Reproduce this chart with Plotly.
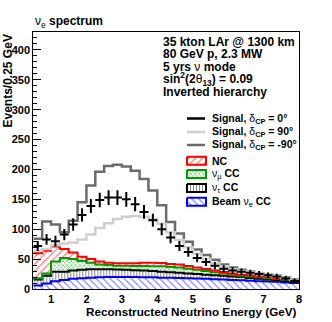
import numpy as np
import plotly.graph_objects as go

# 30 bins of 0.25 GeV between 0.5 and 8 GeV
energy_edges = np.arange(0.5, 8.0001, 0.25)

# background components (events per bin), stacked bottom -> top
beam_nue_cc = [6, 9, 13, 15, 17, 18, 19, 19.5, 20, 20, 20, 20, 19.5, 19.5, 19,
               19, 18.5, 18, 17.5, 17, 16.5, 16, 15, 14.5, 14, 13, 12.5, 12, 11, 10]
nutau_cc = [10, 13, 16, 14, 14, 14, 14, 13.5, 13, 12.5, 12, 11.5, 11.5, 10.5, 10,
            9, 8.5, 8, 7.5, 7, 6.5, 6, 6, 5.5, 4.5, 4, 3.5, 3, 2.5, 2]
numu_cc = [2, 4, 17, 23, 19, 15, 11, 8, 7, 6.5, 7, 7, 7.5, 8, 9,
           9, 9, 8, 7, 6, 5, 4, 3, 2, 2.5, 2.5, 2, 2, 2, 2]
nc = [42, 38, 25, 15, 11, 7, 6, 5, 4, 4, 4, 4.5, 5.5, 6, 5.5,
      5, 5, 4.5, 4, 3.5, 3, 2.5, 2, 2, 2, 1.5, 1.5, 1, 1, 1]

# signal + background for three values of delta_CP
signal_dcp0 = [72, 83, 80, 91, 108, 124, 139, 149, 153, 153, 150, 142, 129, 115, 100,
               86, 72, 62, 52, 45, 39, 34, 31, 29, 27, 25, 23, 21, 18, 14]
signal_dcp90 = [64, 67, 73, 76, 78, 83, 91, 102, 110, 117, 121, 122, 121, 117, 109,
                95, 82, 70, 59, 50, 43, 38, 33, 30, 28, 26, 23.5, 21.5, 19, 15.5]
signal_dcpm90 = [84, 113, 108, 95, 114, 145, 173, 196, 206, 208, 205, 198, 184, 165, 140,
                 112, 93, 79, 66, 57, 49, 41, 36, 32, 29, 26.5, 24, 22, 19.5, 16.5]

W, H = 332, 322
FONT = "Liberation Sans"
DGRAY = "#6b6b6b"
LGRAY = "#cfcfcf"
GREEN = "#009a00"


def step(v):
    return list(v) + [v[-1]]


fig = go.Figure()

# (values, colour, hatch, hatch size, hatch solidity)
stack = [
    (beam_nue_cc, "blue", "\\", 5, 0.22),
    (nutau_cc, "black", "|", 3, 0.3),
    (numu_cc, GREEN, "x", 3, 0.45),
    (nc, "red", "/", 5, 0.28),
]
top = np.zeros(len(beam_nue_cc))
for i, (vals, col, shp, sz, sol) in enumerate(stack):
    top = top + np.array(vals)
    fig.add_trace(go.Scatter(
        x=energy_edges, y=step(top), mode="lines",
        line=dict(shape="hv", color=col, width=2),
        fill="tozeroy" if i == 0 else "tonexty",
        fillpattern=dict(shape=shp, fgcolor=col, bgcolor="white", size=sz, solidity=sol),
    ))

fig.add_trace(go.Scatter(x=energy_edges, y=step(signal_dcpm90), mode="lines",
                         line=dict(shape="hv", color=DGRAY, width=2.5)))
fig.add_trace(go.Scatter(x=energy_edges, y=step(signal_dcp90), mode="lines",
                         line=dict(shape="hv", color=LGRAY, width=2.5)))

centers = (energy_edges[:-1] + energy_edges[1:]) / 2
fig.add_trace(go.Scatter(
    x=centers, y=signal_dcp0, mode="markers", marker=dict(size=1, color="black"),
    error_x=dict(type="constant", value=0.125, width=0, thickness=2, color="black"),
    error_y=dict(type="data", array=np.sqrt(signal_dcp0), width=0, thickness=2, color="black"),
))

# legend drawn by hand on a pixel overlay (x2/y2)
leg_lines = [("black", "<b>Signal, </b>δ<sub><b>CP</b></sub><b> = 0°</b>", 118.5),
             (LGRAY, "<b>Signal, </b>δ<sub><b>CP</b></sub><b> = 90°</b>", 132),
             (DGRAY, "<b>Signal, </b>δ<sub><b>CP</b></sub><b> = -90°</b>", 145)]
for col, txt, yy in leg_lines:
    fig.add_trace(go.Scatter(x=[187, 205], y=[yy, yy], mode="lines", xaxis="x2", yaxis="y2",
                             line=dict(color=col, width=2.5)))
    fig.add_annotation(x=210, y=yy, xref="x2", yref="y2", text=txt, showarrow=False,
                       xanchor="left", yanchor="middle", font=dict(size=10.5))

leg_boxes = [(stack[3], "<b>NC</b>", 160.8),
             (stack[2], "ν<sub>μ</sub><b> CC</b>", 174),
             (stack[1], "ν<sub>τ</sub><b> CC</b>", 188),
             (stack[0], "<b>Beam </b>ν<sub>e</sub><b> CC</b>", 201.7)]
for (_, col, shp, sz, sol), txt, yy in leg_boxes:
    fig.add_trace(go.Scatter(
        x=[187, 206, 206, 187, 187], y=[yy - 4, yy - 4, yy + 4, yy + 4, yy - 4],
        mode="lines", xaxis="x2", yaxis="y2", fill="toself",
        line=dict(color=col, width=2),
        fillpattern=dict(shape=shp, fgcolor=col, bgcolor="white", size=sz, solidity=sol)))
    fig.add_annotation(x=210, y=yy, xref="x2", yref="y2", text=txt, showarrow=False,
                       xanchor="left", yanchor="middle", font=dict(size=10.5))

info = [("<b>35 kton LAr @ 1300 km</b>", 42),
        ("<b>80 GeV p, 2.3 MW</b>", 54),
        ("<b>5 yrs </b>ν<b> mode</b>", 66.5),
        ("<b>sin<sup>2</sup>(2</b>θ<sub><b>13</b></sub><b>) = 0.09</b>", 79),
        ("<b>Inverted hierarchy</b>", 91.5)]
for txt, yy in info:
    fig.add_annotation(x=161, y=yy, xref="x2", yref="y2", text=txt, showarrow=False,
                       xanchor="left", yanchor="middle", font=dict(size=12))

fig.add_annotation(x=33, y=22, xref="x2", yref="y2", text="ν<sub>e</sub><b> spectrum</b>",
                   showarrow=False, xanchor="left", yanchor="middle", font=dict(size=12))
fig.add_annotation(x=299, y=311, xref="x2", yref="y2",
                   text="<b>Reconstructed Neutrino Energy (GeV)</b>",
                   showarrow=False, xanchor="right", yanchor="middle", font=dict(size=11.7))
fig.add_annotation(x=7, y=33, xref="x2", yref="y2", text="<b>Events/0.25 GeV</b>",
                   textangle=-90, showarrow=False, xanchor="center", yanchor="top",
                   font=dict(size=12))

fig.update_layout(
    width=W, height=H, autosize=False,
    margin=dict(l=0, r=0, t=0, b=0),
    paper_bgcolor="white", plot_bgcolor="rgba(0,0,0,0)",
    showlegend=False,
    font=dict(family=FONT, color="black"),
    xaxis=dict(domain=[33.3 / W, 299 / W], range=[0.5, 8], showgrid=False,
               zeroline=False, automargin=False, layer="below traces",
               showline=True, linecolor="black", linewidth=1, mirror=True,
               ticks="inside", ticklen=8, tickcolor="black", dtick=1, tick0=0,
               tickfont=dict(size=11), tickprefix="<b>", ticksuffix="</b>",
               minor=dict(ticks="inside", ticklen=4, dtick=0.2, tick0=0, tickcolor="black")),
    yaxis=dict(domain=[(H - 289) / H, (H - 32) / H], range=[0, 430], showgrid=False,
               zeroline=False, automargin=False,
               showline=True, linecolor="black", linewidth=1, mirror=True,
               ticks="inside", ticklen=8, tickcolor="black", dtick=50, tick0=0,
               tickfont=dict(size=11), tickprefix="<b>", ticksuffix="</b>",
               minor=dict(ticks="inside", ticklen=4, dtick=10, tick0=0, tickcolor="black")),
    xaxis2=dict(domain=[0, 1], range=[0, W], visible=False, anchor="y2", fixedrange=True,
                automargin=False),
    yaxis2=dict(domain=[0, 1], range=[H, 0], visible=False, anchor="x2", fixedrange=True,
                automargin=False),
)

# drop the default 8px page margin so the figure sits at the window corner
fig.write_html("out.html", config={"displayModeBar": False},
               post_script="document.body.style.margin = '0';")
